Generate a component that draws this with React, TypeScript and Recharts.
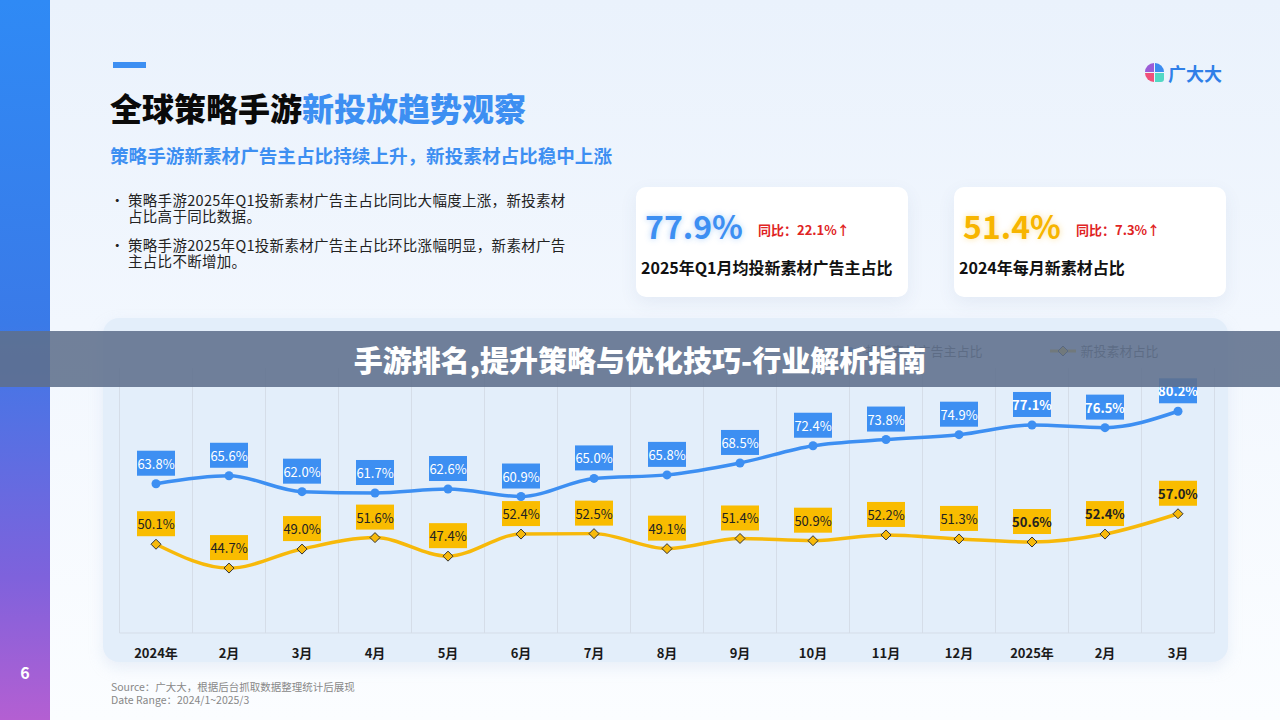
import React from "react";
import {
  LineChart,
  Line,
  XAxis,
  YAxis,
  CartesianGrid,
  Legend,
  LabelList,
} from "recharts";

const months = [
  "2024年", "2月", "3月", "4月", "5月", "6月", "7月", "8月",
  "9月", "10月", "11月", "12月", "2025年", "2月", "3月",
];
const advertiserShare = [
  63.8, 65.6, 62.0, 61.7, 62.6, 60.9, 65.0, 65.8, 68.5, 72.4, 73.8, 74.9, 77.1, 76.5, 80.2,
];
const creativeShare = [
  50.1, 44.7, 49.0, 51.6, 47.4, 52.4, 52.5, 49.1, 51.4, 50.9, 52.2, 51.3, 50.6, 52.4, 57.0,
];
const seriesNames = ["投新素材广告主占比", "新投素材占比"];

const data = months.map((m, i) => ({
  month: m,
  key: `${i}`,
  adv: advertiserShare[i],
  cre: creativeShare[i],
}));

const BLUE = "#3d8ff2";
const YELLOW = "#f7b90a";
const FONT = "'Noto Sans CJK SC', 'Noto Sans', sans-serif";

const makeLabel = (bg: string, fg: string) => (props: any) => {
  const { x, y, value, index } = props;
  if (value == null) return null;
  const w = 38;
  const h = 25;
  return (
    <g>
      <rect x={x - w / 2} y={y - 8 - h} width={w} height={h} fill={bg} />
      <text
        x={x}
        y={y - 8 - h / 2}
        textAnchor="middle"
        dominantBaseline="central"
        fontSize={13}
        fontWeight={index >= 12 ? 700 : 400}
        fill={fg}
        fontFamily={FONT}
      >
        {Number(value).toFixed(1)}%
      </text>
    </g>
  );
};

const Diamond = (props: any) => {
  const { cx, cy } = props;
  if (cx == null || cy == null) return <g />;
  const s = 5;
  return (
    <polygon
      points={`${cx},${cy - s} ${cx + s},${cy} ${cx},${cy + s} ${cx - s},${cy}`}
      fill={YELLOW}
      stroke="#333"
      strokeWidth={1}
    />
  );
};

const LegendContent = () => (
  <div
    style={{
      display: "flex",
      justifyContent: "flex-end",
      alignItems: "center",
      gap: 68,
      paddingRight: 56,
      height: 35,
      fontFamily: FONT,
      fontSize: 13,
      color: "#555",
    }}
  >
    <div style={{ display: "flex", alignItems: "center", gap: 4 }}>
      <svg width={22} height={12}>
        <line x1={0} y1={6} x2={22} y2={6} stroke={BLUE} strokeWidth={3} />
        <circle cx={11} cy={6} r={4} fill={BLUE} />
      </svg>
      <span>{seriesNames[0]}</span>
    </div>
    <div style={{ display: "flex", alignItems: "center", gap: 4 }}>
      <svg width={26} height={12}>
        <line x1={0} y1={6} x2={26} y2={6} stroke={YELLOW} strokeWidth={3} />
        <polygon points="13,1 18,6 13,11 8,6" fill={YELLOW} stroke="#333" strokeWidth={1} />
      </svg>
      <span>{seriesNames[1]}</span>
    </div>
  </div>
);

const bullets = [
  "策略手游2025年Q1投新素材广告主占比同比大幅度上涨，新投素材占比高于同比数据。",
  "策略手游2025年Q1投新素材广告主占比环比涨幅明显，新素材广告主占比不断增加。",
];

function Card({ left, big, color, yoy, label }: any) {
  return (
    <div
      style={{
        position: "absolute",
        left,
        top: 187,
        width: 272,
        height: 110,
        background: "#fff",
        borderRadius: 10,
        boxShadow: "0 6px 18px rgba(60,90,140,0.08)",
      }}
    >
      <div
        style={{
          position: "absolute",
          left: 9,
          top: 16,
          fontSize: 32,
          fontWeight: 700,
          color,
          textShadow: `0 0 6px ${color}66`,
          lineHeight: "44px",
        }}
      >
        {big}
      </div>
      <div
        style={{
          position: "absolute",
          left: 122,
          top: 33,
          fontSize: 13,
          fontWeight: 700,
          color: "#e02424",
        }}
      >
        {yoy}
      </div>
      <div
        style={{
          position: "absolute",
          left: 5,
          top: 68,
          fontSize: 16,
          fontWeight: 700,
          color: "#111",
        }}
      >
        {label}
      </div>
    </div>
  );
}

export default function App() {
  return (
    <div
      style={{
        position: "absolute",
        left: 0,
        top: 0,
        width: 1280,
        height: 720,
        overflow: "hidden",
        fontFamily: FONT,
        background: "linear-gradient(180deg, #eaf2fc 0%, #f2f7fe 45%, #fbfdff 100%)",
      }}
    >
      {/* sidebar */}
      <div
        style={{
          position: "absolute",
          left: 0,
          top: 0,
          width: 50,
          height: 720,
          background: "linear-gradient(180deg, #2f8af5 0%, #3a7ae8 45%, #7e62dc 80%, #b45fd2 100%)",
        }}
      />
      <div
        style={{
          position: "absolute",
          left: 0,
          top: 660,
          width: 50,
          textAlign: "center",
          color: "#fff",
          fontWeight: 700,
          fontSize: 16,
        }}
      >
        6
      </div>

      {/* header */}
      <div style={{ position: "absolute", left: 113, top: 62, width: 33, height: 6, background: BLUE }} />
      <div
        style={{
          position: "absolute",
          left: 110,
          top: 86,
          fontSize: 32,
          fontWeight: 900,
          color: "#0a0a0a",
          lineHeight: "42px",
          whiteSpace: "nowrap",
        }}
      >
        全球策略手游<span style={{ color: BLUE }}>新投放趋势观察</span>
      </div>
      <div
        style={{
          position: "absolute",
          left: 110,
          top: 141,
          fontSize: 18.6,
          fontWeight: 700,
          color: BLUE,
          whiteSpace: "nowrap",
        }}
      >
        策略手游新素材广告主占比持续上升，新投素材占比稳中上涨
      </div>
      {bullets.map((b, i) => (
        <div
          key={i}
          style={{
            position: "absolute",
            left: 110,
            top: 192 + i * 45,
            width: 470,
            display: "flex",
            fontSize: 14.5,
            letterSpacing: 0.3,
            lineHeight: "16px",
            color: "#222",
          }}
        >
          <span style={{ width: 18, flexShrink: 0 }}>•</span>
          <span style={{ width: 445, flexShrink: 0 }}>{b}</span>
        </div>
      ))}

      {/* logo */}
      <div style={{ position: "absolute", left: 1145, top: 63, width: 20, height: 20 }}>
        <div style={{ position: "absolute", left: 0, top: 0, width: 9, height: 9, background: "#9b5cd6", borderTopLeftRadius: 9 }} />
        <div style={{ position: "absolute", left: 10, top: 0, width: 9, height: 9, background: "#3b8cf0", borderTopRightRadius: 9 }} />
        <div style={{ position: "absolute", left: 0, top: 10, width: 9, height: 9, background: "#f0507a", borderBottomLeftRadius: 9 }} />
        <div style={{ position: "absolute", left: 10, top: 10, width: 9, height: 9, background: "#52d8c4", borderBottomRightRadius: 3 }} />
      </div>
      <div
        style={{
          position: "absolute",
          left: 1168,
          top: 60,
          fontSize: 18,
          fontWeight: 700,
          color: "#2f7fe8",
        }}
      >
        广大大
      </div>

      <Card left={636} big="77.9%" color={BLUE} yoy="同比：22.1%↑" label="2025年Q1月均投新素材广告主占比" />
      <Card left={954} big="51.4%" color="#f7b500" yoy="同比：7.3%↑" label="2024年每月新素材占比" />

      {/* chart panel */}
      <div
        style={{
          position: "absolute",
          left: 103,
          top: 318,
          width: 1125,
          height: 344,
          background: "#e3eefa",
          borderRadius: 16,
          boxShadow: "0 6px 14px rgba(200,215,235,0.35)",
        }}
      >
        <LineChart
          width={1125}
          height={344}
          data={data}
          margin={{ top: 15, right: 13.5, left: 16.5, bottom: 0 }}
        >
          <Legend verticalAlign="top" height={35} content={<LegendContent />} />
          <CartesianGrid
            horizontal={false}
            stroke="#d5dde8"
            strokeWidth={1}
            verticalCoordinatesGenerator={({ offset }: any) =>
              Array.from(
                { length: months.length + 1 },
                (_, i) => offset.left + (i * offset.width) / months.length
              )
            }
          />
          <XAxis
            dataKey="key"
            scale="band"
            tickFormatter={(_v: any, i: number) => months[i]}
            tickLine={false}
            axisLine={{ stroke: "#d5dde8" }}
            tickMargin={10}
            height={29}
            interval={0}
            tick={{ fill: "#1a1a1a", fontSize: 13, fontWeight: 700, fontFamily: FONT }}
          />
          <YAxis hide domain={[30, 90]} />
          <Line
            type="monotone"
            dataKey="adv"
            name={seriesNames[0]}
            stroke={BLUE}
            strokeWidth={3.5}
            dot={{ r: 4.5, fill: BLUE, stroke: BLUE, strokeWidth: 0 }}
            isAnimationActive={false}
          >
            <LabelList dataKey="adv" content={makeLabel(BLUE, "#fff")} />
          </Line>
          <Line
            type="monotone"
            dataKey="cre"
            name={seriesNames[1]}
            stroke={YELLOW}
            strokeWidth={3.5}
            dot={<Diamond />}
            isAnimationActive={false}
          >
            <LabelList dataKey="cre" content={makeLabel("#f9bc00", "#222")} />
          </Line>
        </LineChart>
      </div>

      {/* overlay banner */}
      <div
        style={{
          position: "absolute",
          left: 0,
          top: 331,
          width: 1280,
          height: 56,
          background: "rgba(95,112,140,0.88)",
          display: "flex",
          alignItems: "center",
          justifyContent: "center",
          color: "#fff",
          fontSize: 29,
          fontWeight: 900,
        }}
      >
        手游排名,提升策略与优化技巧-行业解析指南
      </div>

      {/* source */}
      <div
        style={{
          position: "absolute",
          left: 111,
          top: 680,
          fontSize: 10.5,
          lineHeight: "13px",
          color: "#888",
        }}
      >
        <div>Source：广大大，根据后台抓取数据整理统计后展现</div>
        <div>Date Range：2024/1~2025/3</div>
      </div>
    </div>
  );
}
